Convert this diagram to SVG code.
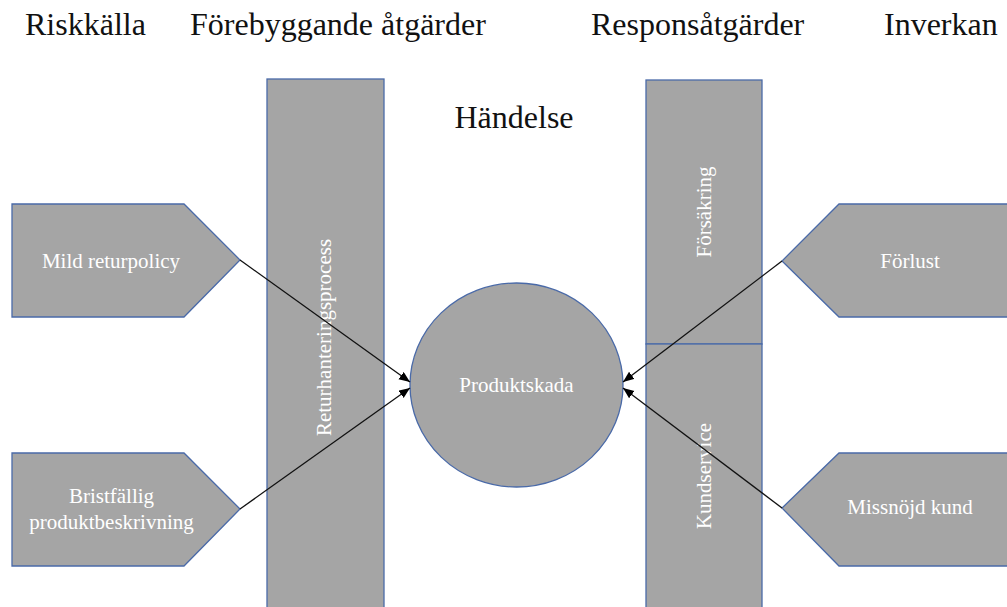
<svg xmlns="http://www.w3.org/2000/svg" width="1007" height="607" viewBox="0 0 1007 607">
<style>
.shape{fill:#a5a5a5;stroke:#4a6aa8;stroke-width:1.3}
.hdr{font-family:'Liberation Serif','DejaVu Serif',serif;font-size:32px;fill:#111}
.lbl{font-family:'Liberation Serif','DejaVu Serif',serif;font-size:21px;fill:#ffffff;text-anchor:middle}
.conn{stroke:#111;stroke-width:1.3;fill:none;marker-end:url(#arr)}
</style>
<defs>
<marker id="arr" markerUnits="userSpaceOnUse" markerWidth="12" markerHeight="10" refX="11" refY="4.5" orient="auto">
<path d="M0,0 L11,4.5 L0,9 z" fill="#000"/>
</marker>
</defs>
<rect width="1007" height="607" fill="#ffffff"/>
<g id="headers">
<text class="hdr" x="25" y="35">Riskkälla</text>
<text class="hdr" x="190" y="35">Förebyggande åtgärder</text>
<text class="hdr" x="591" y="35">Responsåtgärder</text>
<text class="hdr" x="884" y="35">Inverkan</text>
<text class="hdr" x="514" y="128" text-anchor="middle">Händelse</text>
</g>
<g id="returhantering">
<rect class="shape" x="267" y="79" width="117" height="535"/>
<text class="lbl" transform="translate(331,337.5) rotate(-90)">Returhanteringsprocess</text>
</g>
<g id="forsakring">
<rect class="shape" x="646" y="80" width="116" height="264"/>
<text class="lbl" transform="translate(711,212) rotate(-90)">Försäkring</text>
</g>
<g id="kundservice">
<rect class="shape" x="646" y="344" width="116" height="270"/>
<text class="lbl" transform="translate(711,476) rotate(-90)">Kundservice</text>
</g>
<g id="mild">
<polygon class="shape" points="12,204 184,204 240,260 184,317 12,317"/>
<text class="lbl" x="111" y="268">Mild returpolicy</text>
</g>
<g id="bristfallig">
<polygon class="shape" points="12,453 184,453 240,509 184,566 12,566"/>
<text class="lbl" x="111.5" y="503">Bristfällig</text>
<text class="lbl" x="111.5" y="529">produktbeskrivning</text>
</g>
<g id="forlust">
<polygon class="shape" points="1012,204 839,204 782,261 839,317 1012,317"/>
<text class="lbl" x="910" y="268">Förlust</text>
</g>
<g id="missnojd">
<polygon class="shape" points="1012,453 839,453 782,508 839,566 1012,566"/>
<text class="lbl" x="910" y="514">Missnöjd kund</text>
</g>
<g id="produktskada">
<ellipse class="shape" cx="516.5" cy="385" rx="106.5" ry="102"/>
<text class="lbl" x="516.5" y="392">Produktskada</text>
</g>
<g id="connectors">
<line class="conn" x1="240" y1="260" x2="410" y2="382"/>
<line class="conn" x1="240" y1="509" x2="410" y2="388"/>
<line class="conn" x1="782" y1="261" x2="623" y2="382"/>
<line class="conn" x1="782" y1="508" x2="623" y2="388"/>
</g>
</svg>
